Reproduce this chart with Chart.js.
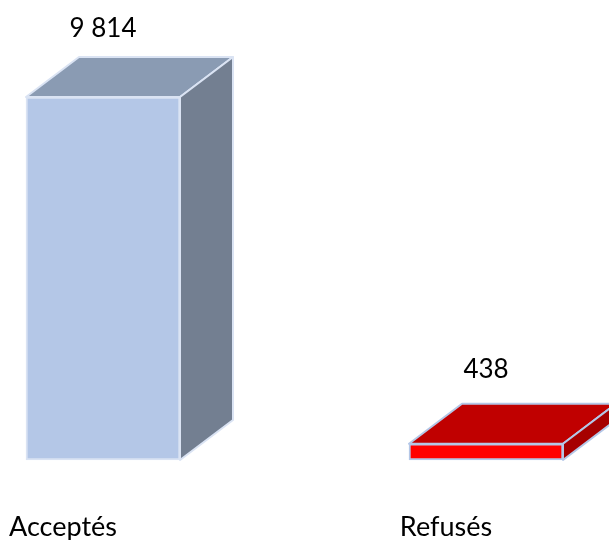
<!DOCTYPE html>
<html lang="fr">
<head>
<meta charset="utf-8">
<title>Acceptés / Refusés</title>
<script src="https://cdn.jsdelivr.net/npm/chart.js@4"></script>
<style>
html,body{margin:0;padding:0;background:#fff}
canvas{display:block}
</style>
</head>
<body>
<canvas id="c" width="609" height="540"></canvas>
<script>
const categories = ['Acceptés', 'Refusés'];
const values = [9814, 438];
const valueLabels = ['9 814', '438'];

const frontColors = ['#B4C7E7', '#FF0000'];
const topColors = ['#8A9BB3', '#C00000'];
const sideColors = ['#737F91', '#A60000'];
const edgeColors = ['#DAE3F3', '#B4C7E7'];

const FONT = '26px Lato, Carlito, sans-serif';

const box3d = {
  id: 'box3d',
  beforeDatasetsDraw(chart, args, opts) {
    const ctx = chart.ctx;
    chart.getDatasetMeta(0).data.forEach((bar, i) => {
      const l = bar.x - bar.width / 2, r = bar.x + bar.width / 2;
      const t = bar.y, b = bar.base, dx = opts.dx, dy = opts.dy;
      ctx.save();
      ctx.lineWidth = 2;
      ctx.lineJoin = 'round';
      ctx.strokeStyle = edgeColors[i];
      ctx.fillStyle = topColors[i];
      ctx.beginPath();
      ctx.moveTo(l, t); ctx.lineTo(l + dx, t - dy); ctx.lineTo(r + dx, t - dy); ctx.lineTo(r, t);
      ctx.closePath(); ctx.fill(); ctx.stroke();
      ctx.fillStyle = sideColors[i];
      ctx.beginPath();
      ctx.moveTo(r, t); ctx.lineTo(r + dx, t - dy); ctx.lineTo(r + dx, b - dy); ctx.lineTo(r, b);
      ctx.closePath(); ctx.fill(); ctx.stroke();
      ctx.restore();
    });
  },
  afterDatasetsDraw(chart, args, opts) {
    const ctx = chart.ctx;
    chart.getDatasetMeta(0).data.forEach((bar, i) => {
      ctx.save();
      ctx.font = FONT;
      ctx.fillStyle = '#000';
      ctx.textAlign = 'center';
      ctx.textBaseline = 'middle';
      ctx.fillText(valueLabels[i], bar.x, bar.y - opts.labelGap[i]);
      ctx.restore();
    });
  }
};

new Chart(document.getElementById('c'), {
  type: 'bar',
  plugins: [box3d],
  data: {
    labels: categories,
    datasets: [{
      data: values,
      backgroundColor: frontColors,
      borderColor: edgeColors,
      borderWidth: 2,
      borderSkipped: false,
      barThickness: 154,
      clip: false
    }]
  },
  options: {
    responsive: false,
    animation: false,
    events: [],
    layout: { padding: { left: 103, right: 123, top: 97, bottom: 0 } },
    plugins: {
      legend: { display: false },
      tooltip: { enabled: false },
      box3d: { dx: 53, dy: 40, labelGap: [68, 74] }
    },
    scales: {
      x: {
        offset: false,
        grid: { display: false, drawTicks: false },
        border: { display: false },
        afterFit(scale) { scale.height = 80; scale.paddingLeft = 0; scale.paddingRight = 0; },
        ticks: {
          color: '#000',
          font: { family: 'Lato, Carlito, sans-serif', size: 27 },
          labelOffset: -40,
          padding: 51,
          maxRotation: 0,
          autoSkip: false
        }
      },
      y: { display: false, min: 0, max: 9814 }
    }
  }
});
</script>
</body>
</html>
